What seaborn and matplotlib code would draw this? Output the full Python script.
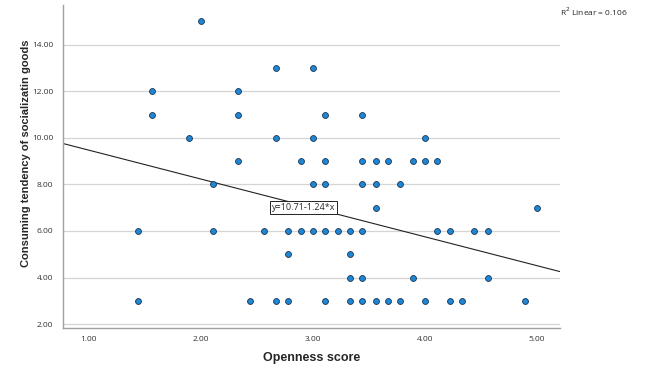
import numpy as np
import pandas as pd
import seaborn as sns
import matplotlib.pyplot as plt

# values (x = openness, y = consumption tendency)
openness = [
    2.00,
    2.67, 3.00,
    1.56, 2.33,
    1.56, 2.33, 3.11, 3.44,
    1.89, 2.67, 3.00, 4.00,
    2.33, 2.89, 3.11, 3.44, 3.56, 3.67, 3.89, 4.00, 4.11,
    2.11, 3.00, 3.11, 3.44, 3.56, 3.78,
    3.56, 5.00,
    1.44, 2.11, 2.56, 2.78, 2.89, 3.00, 3.11, 3.22, 3.33, 3.44, 4.11, 4.22, 4.44, 4.56,
    2.78, 3.33,
    3.33, 3.44, 3.89, 4.56,
    1.44, 2.44, 2.67, 2.78, 3.11, 3.33, 3.44, 3.56, 3.67, 3.78, 4.00, 4.22, 4.33, 4.89,
]
consuming = (
    [15] * 1 + [13] * 2 + [12] * 2 + [11] * 4 + [10] * 4 + [9] * 9 + [8] * 6
    + [7] * 2 + [6] * 14 + [5] * 2 + [4] * 4 + [3] * 14
)

intercept = 10.71
slope = -1.24
r2_linear = 0.106

x_ticks = [1, 2, 3, 4, 5]
y_ticks = [2, 4, 6, 8, 10, 12, 14]

df = pd.DataFrame({"Openness score": openness, "Consuming": consuming})

sns.set_style("white")
plt.rcParams["font.family"] = ["Open Sans", "DejaVu Sans"]
label_font = ["Liberation Sans", "DejaVu Sans"]

fig = plt.figure(figsize=(6.45, 3.69), dpi=100)
ax = fig.add_axes([0.098, 0.111, 0.770, 0.875])

for yt in y_ticks:
    ax.axhline(yt, color="#d4d4d4", lw=0.9, zorder=0)

sns.scatterplot(data=df, x="Openness score", y="Consuming", ax=ax,
                s=18, color="#1e86d6", edgecolor="#1b3550", linewidth=0.6, zorder=3)

ax.axline((0, intercept), slope=slope, color="#222222", lw=0.8, zorder=2)

ax.set_xlim(0.77, 5.205)
ax.set_ylim(1.83, 15.7)
ax.set_xticks(x_ticks)
ax.set_xticklabels([f"{v:.2f}" for v in x_ticks])
ax.set_yticks(y_ticks)
ax.set_yticklabels([f"{v:.2f}" for v in y_ticks])
ax.tick_params(axis="both", labelsize=6, colors="#333333", length=3, width=0.6, pad=4)
ax.tick_params(axis="x", length=0, pad=6)

for side in ["top", "right"]:
    ax.spines[side].set_visible(False)
for side in ["left", "bottom"]:
    ax.spines[side].set_color("#a0a0a0")
    ax.spines[side].set_linewidth(1.0)

ax.set_xlabel("Openness score", fontsize=9, fontweight="bold", labelpad=6, family=label_font)
ax.set_ylabel("Consuming tendency of socializatin goods", fontsize=8, fontweight="bold",
              labelpad=12, family=label_font)
ax.yaxis.set_label_coords(-0.065, 0.54)

ax.text(2.63, 7.0, f"y={intercept:.2f}{slope:.2f}*x", fontsize=6.5, ha="left", va="center",
        zorder=4, bbox=dict(boxstyle="square,pad=0.2", fc="white", ec="#222222", lw=0.7))

fig.text(0.868, 0.967, f"R$^2$ Linear = {r2_linear:.3f}", fontsize=6, ha="left", va="center")

fig.savefig("out.png", dpi=100)
